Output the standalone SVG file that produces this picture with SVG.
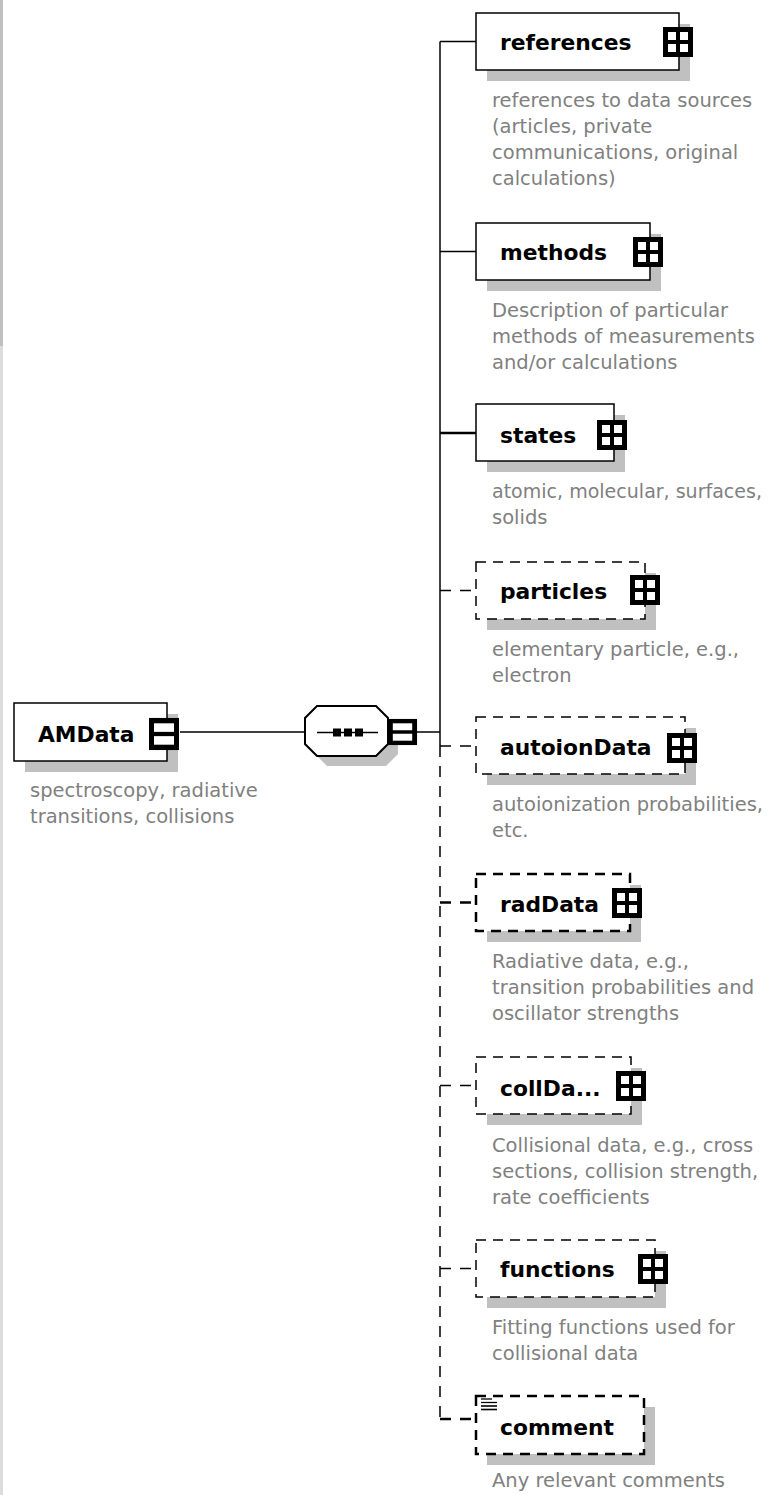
<svg xmlns="http://www.w3.org/2000/svg" width="769" height="1495" viewBox="0 0 769 1495">
<style>
.bg{fill:#ffffff}
.shadow{fill:#c0c0c0;stroke:none}
.box{fill:#ffffff;stroke:#000000;stroke-width:1.5}
.dbox{fill:#ffffff;stroke:#000000;stroke-width:1.5;stroke-dasharray:10,7}
.dboxb{fill:#ffffff;stroke:#000000;stroke-width:2.5;stroke-dasharray:10,7}
.ln{stroke:#000000;stroke-width:1.5;fill:none}
.dln{stroke:#000000;stroke-width:1.5;fill:none;stroke-dasharray:11,9}
.dlnb{stroke:#000000;stroke-width:2.5;fill:none;stroke-dasharray:11,9}
.lbl{font-family:"DejaVu Sans",Verdana,sans-serif;font-weight:bold;font-size:21.8px;fill:#000000}
.desc{font-family:"DejaVu Sans",Verdana,sans-serif;font-size:19.5px;fill:#808080}
</style>
<defs>
<g id="plus">
<rect x="-15" y="-15" width="30" height="30" fill="#000000"/>
<rect x="-10" y="-10" width="8" height="8" fill="#ffffff"/>
<rect x="2" y="-10" width="8" height="8" fill="#ffffff"/>
<rect x="-10" y="2" width="8" height="8" fill="#ffffff"/>
<rect x="2" y="2" width="8" height="8" fill="#ffffff"/>
</g>
<g id="minus">
<rect x="-15" y="-15" width="30" height="30" fill="#000000"/>
<rect x="-10" y="-10" width="20" height="8" fill="#ffffff"/>
<rect x="-10" y="2" width="20" height="8" fill="#ffffff"/>
</g>
</defs>
<rect class="bg" x="0" y="0" width="769" height="1495"/>
<rect x="0" y="0" width="3" height="346" fill="#c0c0c0"/>
<rect x="0" y="346" width="3" height="1149" fill="#dcdcdc"/>

<g id="connectors">
<line class="ln" x1="180" y1="732" x2="305" y2="732"/>
<line class="ln" x1="417" y1="732" x2="440" y2="732"/>
<line class="ln" x1="440" y1="41.5" x2="440" y2="746"/>
<line class="dln" x1="440" y1="746" x2="440" y2="1419"/>
<line class="ln" x1="440" y1="41.5" x2="476" y2="41.5"/>
<line class="ln" x1="440" y1="251.5" x2="476" y2="251.5"/>
<line class="ln" x1="440" y1="433" x2="476" y2="433" style="stroke-width:2.5"/>
<line class="dln" x1="440" y1="590.5" x2="476" y2="590.5"/>
<line class="dln" x1="440" y1="746" x2="476" y2="746"/>
<line class="dlnb" x1="440" y1="902.5" x2="476" y2="902.5"/>
<line class="dln" x1="440" y1="1085.5" x2="476" y2="1085.5"/>
<line class="dln" x1="440" y1="1268.5" x2="476" y2="1268.5"/>
<line class="dlnb" x1="440" y1="1419" x2="476" y2="1419"/>
</g>

<g id="AMData">
<rect class="shadow" x="25" y="714" width="153" height="58"/>
<rect class="box" x="14" y="703" width="153" height="58"/>
<text class="lbl" x="38" y="742">AMData</text>
<use href="#minus" transform="translate(164,734) scale(1,1.07)"/>
<text class="desc" x="30" y="797">spectroscopy, radiative</text>
<text class="desc" x="30" y="823">transitions, collisions</text>
</g>

<g id="sequence">
<polygon class="shadow" points="327,716 386,716 398,728 398,754 386,766 327,766 315,754 315,728"/>
<polygon points="317,706 376,706 388,718 388,744 376,756 317,756 305,744 305,718" fill="#ffffff" stroke="#000000" stroke-width="2"/>
<line class="ln" x1="317" y1="732.5" x2="378" y2="732.5"/>
<rect x="333" y="728.5" width="8" height="8" fill="#000000"/>
<rect x="344" y="728.5" width="8" height="8" fill="#000000"/>
<rect x="355" y="728.5" width="8" height="8" fill="#000000"/>
<use href="#minus" transform="translate(402.5,732) scale(0.97,0.87)"/>
</g>

<g id="references">
<rect class="shadow" x="487" y="24" width="203" height="57"/>
<rect class="box" x="476" y="13" width="203" height="57"/>
<text class="lbl" x="500" y="50">references</text>
<use href="#plus" x="678" y="42"/>
<text class="desc" x="492" y="107">references to data sources</text>
<text class="desc" x="492" y="133">(articles, private</text>
<text class="desc" x="492" y="159">communications, original</text>
<text class="desc" x="492" y="185">calculations)</text>
</g>

<g id="methods">
<rect class="shadow" x="487" y="234" width="174" height="57"/>
<rect class="box" x="476" y="223" width="174" height="57"/>
<text class="lbl" x="500" y="260">methods</text>
<use href="#plus" x="648" y="252"/>
<text class="desc" x="492" y="317">Description of particular</text>
<text class="desc" x="492" y="343">methods of measurements</text>
<text class="desc" x="492" y="369">and/or calculations</text>
</g>

<g id="states">
<rect class="shadow" x="487" y="415" width="138" height="57"/>
<rect class="box" x="476" y="404" width="138" height="57"/>
<text class="lbl" x="500" y="443">states</text>
<use href="#plus" x="612" y="435"/>
<text class="desc" x="492" y="498" textLength="270" lengthAdjust="spacingAndGlyphs">atomic, molecular, surfaces,</text>
<text class="desc" x="492" y="524">solids</text>
</g>

<g id="particles">
<rect class="shadow" x="487" y="573" width="169" height="57"/>
<rect class="dbox" x="476" y="562" width="169" height="57"/>
<text class="lbl" x="500" y="599">particles</text>
<use href="#plus" x="645" y="590"/>
<text class="desc" x="492" y="656">elementary particle, e.g.,</text>
<text class="desc" x="492" y="682">electron</text>
</g>

<g id="autoionData">
<rect class="shadow" x="487" y="728" width="209" height="57"/>
<rect class="dbox" x="476" y="717" width="209" height="57"/>
<text class="lbl" x="500" y="755">autoionData</text>
<use href="#plus" x="682" y="748"/>
<text class="desc" x="492" y="811">autoionization probabilities,</text>
<text class="desc" x="492" y="837">etc.</text>
</g>

<g id="radData">
<rect class="shadow" x="487" y="885" width="154" height="57"/>
<rect class="dboxb" x="476" y="874" width="154" height="57"/>
<text class="lbl" x="500" y="912">radData</text>
<use href="#plus" x="627" y="903"/>
<text class="desc" x="492" y="968">Radiative data, e.g.,</text>
<text class="desc" x="492" y="994">transition probabilities and</text>
<text class="desc" x="492" y="1020">oscillator strengths</text>
</g>

<g id="collData">
<rect class="shadow" x="487" y="1068" width="155" height="57"/>
<rect class="dbox" x="476" y="1057" width="155" height="57"/>
<text class="lbl" x="500" y="1096">collDa...</text>
<use href="#plus" x="631" y="1086"/>
<text class="desc" x="492" y="1152">Collisional data, e.g., cross</text>
<text class="desc" x="492" y="1178">sections, collision strength,</text>
<text class="desc" x="492" y="1204">rate coefficients</text>
</g>

<g id="functions">
<rect class="shadow" x="487" y="1251" width="179" height="57"/>
<rect class="dbox" x="476" y="1240" width="179" height="57"/>
<text class="lbl" x="500" y="1277">functions</text>
<use href="#plus" x="653" y="1269"/>
<text class="desc" x="492" y="1334">Fitting functions used for</text>
<text class="desc" x="492" y="1360">collisional data</text>
</g>

<g id="comment">
<rect class="shadow" x="487" y="1407" width="168" height="58"/>
<rect class="dboxb" x="476" y="1396" width="168" height="58"/>
<line x1="481" y1="1399" x2="492" y2="1399" stroke="#000" stroke-width="1.3"/>
<line x1="481" y1="1402.5" x2="497" y2="1402.5" stroke="#000" stroke-width="1.3"/>
<line x1="481" y1="1406" x2="497" y2="1406" stroke="#000" stroke-width="1.6"/>
<line x1="481" y1="1409.5" x2="497" y2="1409.5" stroke="#000" stroke-width="1.6"/>
<text class="lbl" x="500" y="1435">comment</text>
<text class="desc" x="492" y="1487">Any relevant comments</text>
</g>
</svg>
